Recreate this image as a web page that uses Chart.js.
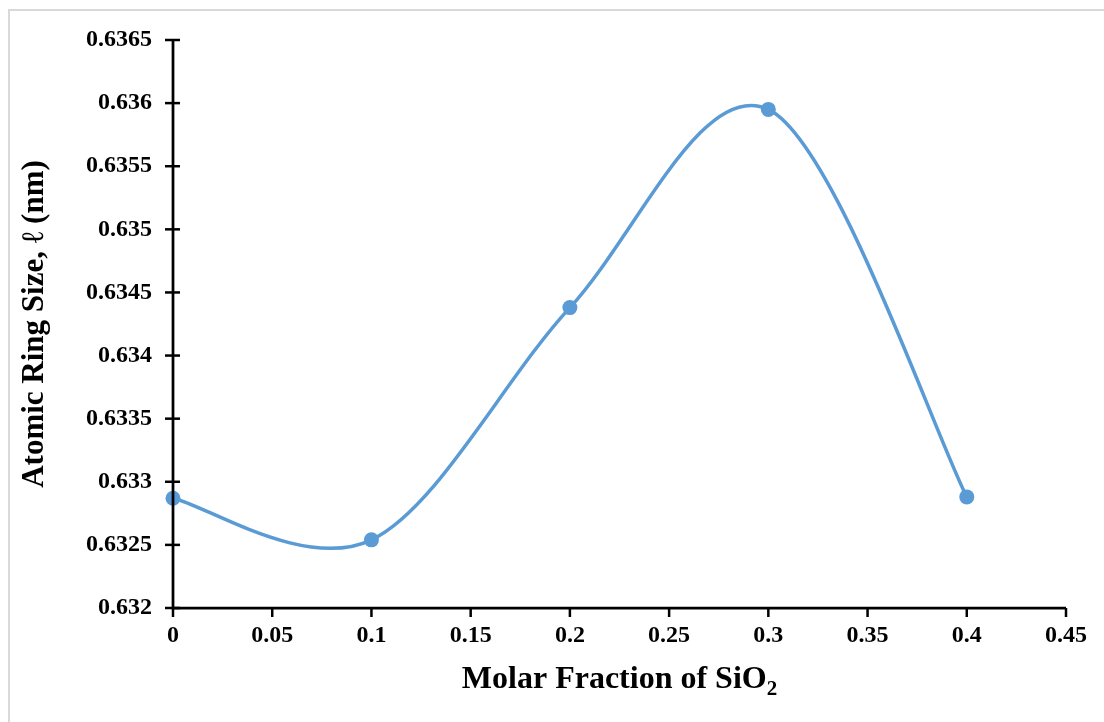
<!DOCTYPE html>
<html>
<head>
<meta charset="utf-8">
<script src="https://cdn.jsdelivr.net/npm/chart.js@4.4.1/dist/chart.umd.min.js"></script>
<style>
  html, body { margin: 0; padding: 0; background: #fff; }
  #wrap { width: 1104px; height: 722px; }
</style>
</head>
<body>
<div id="wrap"><canvas id="chart-ring"></canvas></div>
<script>
// values
const molarFraction = [0, 0.1, 0.2, 0.3, 0.4];
const ringSize = [0.63287, 0.63254, 0.63438, 0.63595, 0.63288];

const X_MIN = 0, X_MAX = 0.45, X_STEP = 0.05;
const Y_MIN = 0.632, Y_MAX = 0.6365, Y_STEP = 0.0005;

const FONT = '"Liberation Serif", "Times New Roman", serif';

// Excel-style smoothing: uniform Catmull-Rom control points in pixel space
const smoothPlugin = {
    id: 'excelSmooth',
    beforeDatasetDraw(chart, args) {
        const meta = args.meta;
        const pts = meta.data;
        const n = pts.length;
        for (let i = 0; i < n; i++) {
            const prev = pts[Math.max(i - 1, 0)];
            const next = pts[Math.min(i + 1, n - 1)];
            const dx = (next.x - prev.x) / 6;
            const dy = (next.y - prev.y) / 6;
            pts[i].cp1x = pts[i].x - dx;
            pts[i].cp1y = pts[i].y - dy;
            pts[i].cp2x = pts[i].x + dx;
            pts[i].cp2y = pts[i].y + dy;
        }
        meta.dataset._pointsUpdated = true;
        meta.dataset._path = undefined;
    }
};

// axis lines, tick marks, frame and x title with subscript
const axesPlugin = {
    id: 'excelAxes',
    afterDraw(chart) {
        const ctx = chart.ctx;
        const area = chart.chartArea;
        const xs = chart.scales.x;
        const ys = chart.scales.y;
        ctx.save();

        // light frame of the chart area
        ctx.strokeStyle = '#d9d9d9';
        ctx.lineWidth = 2;
        ctx.strokeRect(9, 10, 1110, 730);

        ctx.strokeStyle = '#000';
        ctx.lineWidth = 2.75;
        ctx.lineCap = 'butt';
        ctx.beginPath();
        ctx.moveTo(area.left, area.top);
        ctx.lineTo(area.left, area.bottom);
        ctx.lineTo(area.right, area.bottom);
        ctx.stroke();

        ctx.lineWidth = 2.5;
        ys.ticks.forEach(t => {
            const py = ys.getPixelForValue(t.value);
            ctx.beginPath();
            ctx.moveTo(area.left - 8, py);
            ctx.lineTo(area.left + 7, py);
            ctx.stroke();
        });
        xs.ticks.forEach(t => {
            const px = xs.getPixelForValue(t.value);
            ctx.beginPath();
            ctx.moveTo(px, area.bottom);
            ctx.lineTo(px, area.bottom + 9);
            ctx.stroke();
        });

        // x title: Molar Fraction of SiO2
        ctx.fillStyle = '#000';
        ctx.textBaseline = 'alphabetic';
        ctx.textAlign = 'left';
        const main = 'Molar Fraction of SiO';
        ctx.font = 'bold 32px ' + FONT;
        const w1 = ctx.measureText(main).width;
        ctx.font = 'bold 21px ' + FONT;
        const w2 = ctx.measureText('2').width;
        const x0 = (area.left + area.right) / 2 - (w1 + w2) / 2;
        ctx.font = 'bold 32px ' + FONT;
        ctx.fillText(main, x0, 688);
        ctx.font = 'bold 21px ' + FONT;
        ctx.fillText('2', x0 + w1, 695);

        ctx.restore();
    }
};

const points = molarFraction.map((x, i) => ({ x: x, y: ringSize[i] }));

new Chart(document.getElementById('chart-ring'), {
    type: 'line',
    data: {
        datasets: [{
            data: points,
            borderColor: '#5b9bd5',
            backgroundColor: '#5b9bd5',
            borderWidth: 3.5,
            pointRadius: 7.5,
            pointHoverRadius: 7.5,
            pointBorderWidth: 0,
            tension: 0.5,
            clip: false,
            fill: false
        }]
    },
    options: {
        responsive: true,
        maintainAspectRatio: false,
        animation: false,
        layout: { padding: { left: 0, top: 40, right: 38, bottom: 0 } },
        plugins: {
            legend: { display: false },
            tooltip: { enabled: false }
        },
        scales: {
            x: {
                type: 'linear',
                min: X_MIN,
                max: X_MAX,
                grid: { display: false, drawTicks: false },
                border: { display: false },
                ticks: {
                    stepSize: X_STEP,
                    padding: 13,
                    color: '#000',
                    font: { family: FONT, size: 24, weight: 'bold' },
                    callback: v => String(Number(v.toFixed(2)))
                },
                afterFit: s => { s.height = 114; }
            },
            y: {
                min: Y_MIN,
                max: Y_MAX,
                grid: { display: false, drawTicks: false },
                border: { display: false },
                ticks: {
                    stepSize: Y_STEP,
                    padding: 21,
                    color: '#000',
                    font: { family: FONT, size: 24, weight: 'bold' },
                    callback: v => String(Number(v.toFixed(4)))
                },
                title: {
                    display: true,
                    text: 'Atomic Ring Size, ℓ (nm)',
                    color: '#000',
                    padding: { top: 16, bottom: 0 },
                    font: { family: FONT, size: 31, weight: 'bold' }
                },
                afterFit: s => { s.width = 173; }
            }
        }
    },
    plugins: [smoothPlugin, axesPlugin]
});
</script>
</body>
</html>
